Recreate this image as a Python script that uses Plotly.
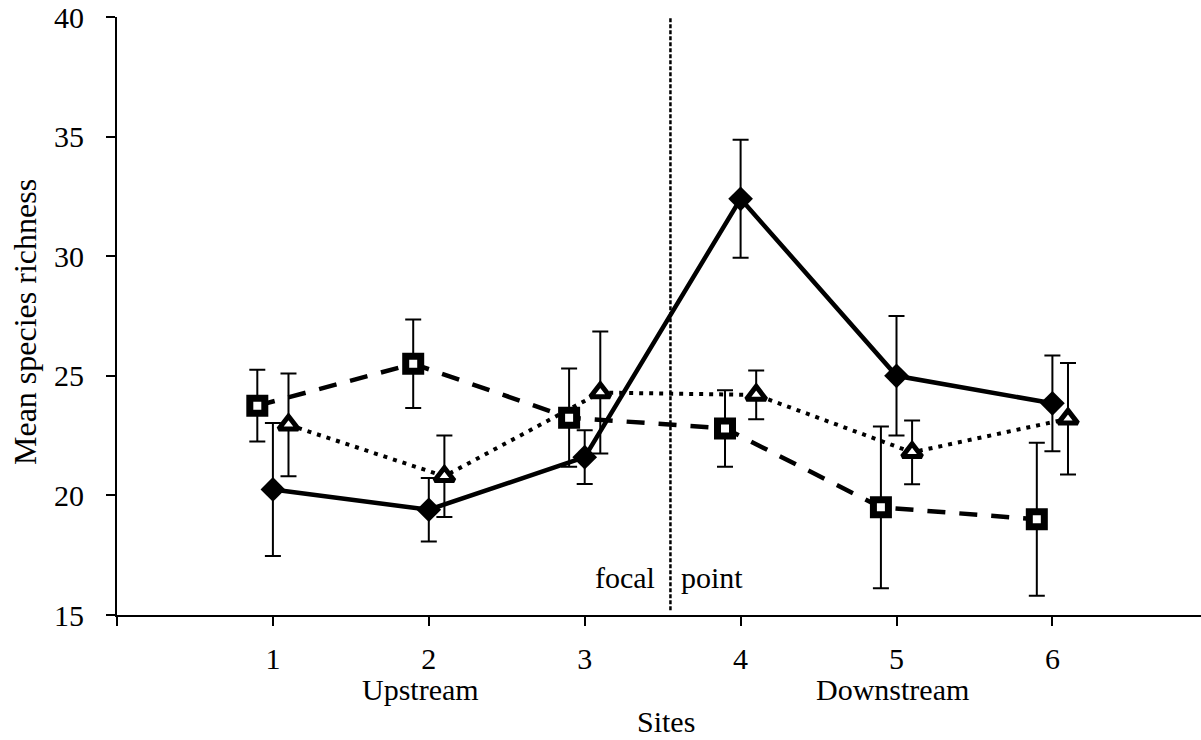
import plotly.graph_objects as go

# Sites along the stream (1-3 upstream of the focal point, 4-6 downstream)
sites = [1, 2, 3, 4, 5, 6]
site_labels = ["1", "2", "3", "4", "5", "6"]

# Mean species richness and standard errors for the three groups
diamond_mean = [20.25, 19.4, 21.6, 32.4, 25.0, 23.85]
diamond_err = [2.78, 1.33, 1.12, 2.47, 2.5, 2.0]

square_mean = [23.75, 25.5, 23.25, 22.8, 19.5, 19.0]
square_err = [1.5, 1.85, 2.05, 1.6, 3.38, 3.2]

triangle_mean = [22.95, 20.8, 24.3, 24.2, 21.8, 23.2]
triangle_err = [2.15, 1.7, 2.55, 1.02, 1.33, 2.33]

focal_site = 3.55

FONT = "Liberation Serif, Times New Roman, serif"
FS = 30

# small horizontal dodge so the error bars do not overlap
DODGE = 0.1

L, R, T, B = 117, 0, 17, 125
W, H = 1201, 740
PW, PH = W - L - R, H - T - B


def px_x(px):
    return (px - L) / PW


def px_y(py):
    return (H - B - py) / PH


def err(vals):
    return dict(type="data", array=vals, visible=True, color="black",
                thickness=2, width=8)


fig = go.Figure()

fig.add_trace(go.Scatter(
    x=[s + DODGE for s in sites], y=triangle_mean, mode="lines+markers",
    line=dict(color="black", width=4, dash="4px,6px"),
    marker=dict(symbol="triangle-up", size=17, color="white",
                line=dict(color="black", width=5)),
    error_y=err(triangle_err), showlegend=False))

fig.add_trace(go.Scatter(
    x=[s - DODGE for s in sites], y=square_mean, mode="lines+markers",
    line=dict(color="black", width=4.5, dash="18px,14px"),
    marker=dict(symbol="square", size=15, color="white",
                line=dict(color="black", width=7)),
    error_y=err(square_err), showlegend=False))

fig.add_trace(go.Scatter(
    x=sites, y=diamond_mean, mode="lines+markers",
    line=dict(color="black", width=4.5),
    marker=dict(symbol="diamond", size=19, color="black",
                line=dict(color="black", width=0)),
    error_y=err(diamond_err), showlegend=False))

# focal point divider
fig.add_shape(type="line", xref="x", yref="y",
              x0=focal_site, x1=focal_site, y0=15.2, y1=40.05,
              line=dict(color="black", width=2.5, dash="4px,2px"))

annots = [
    dict(text="focal", x=px_x(657), y=px_y(577), xanchor="right", yanchor="middle"),
    dict(text="point", x=px_x(679), y=px_y(577), xanchor="left", yanchor="middle"),
    dict(text="Upstream", x=px_x(420), y=px_y(689), xanchor="center", yanchor="middle"),
    dict(text="Downstream", x=px_x(892), y=px_y(689), xanchor="center", yanchor="middle"),
    dict(text="Sites", x=px_x(666), y=px_y(740), xanchor="center", yanchor="bottom"),
    dict(text="Mean species richness", x=px_x(25), y=px_y(322), xanchor="center",
         yanchor="middle", textangle=-90, font=dict(family=FONT, size=32, color="black")),
]
for a in annots:
    a.setdefault("font", dict(family=FONT, size=FS, color="black"))
    fig.add_annotation(xref="paper", yref="paper", showarrow=False, **a)

fig.update_layout(
    width=W, height=H,
    margin=dict(l=L, r=R, t=T, b=B, autoexpand=False),
    paper_bgcolor="white", plot_bgcolor="white",
    font=dict(family=FONT, size=FS, color="black"),
    xaxis=dict(range=[0, PW / 155.9], tickvals=[0] + sites,
               ticktext=[""] + site_labels,
               showline=True, linecolor="black", linewidth=2,
               ticks="outside", ticklen=9, tickwidth=1.5, tickcolor="black",
               showgrid=False, zeroline=False, ticklabelstandoff=7),
    yaxis=dict(range=[15, 40], tickvals=[15, 20, 25, 30, 35, 40],
               showline=True, linecolor="black", linewidth=2,
               ticks="outside", ticklen=9, tickwidth=1.5, tickcolor="black",
               showgrid=False, zeroline=False, ticklabelstandoff=16),
)

fig.write_html("out.html")
